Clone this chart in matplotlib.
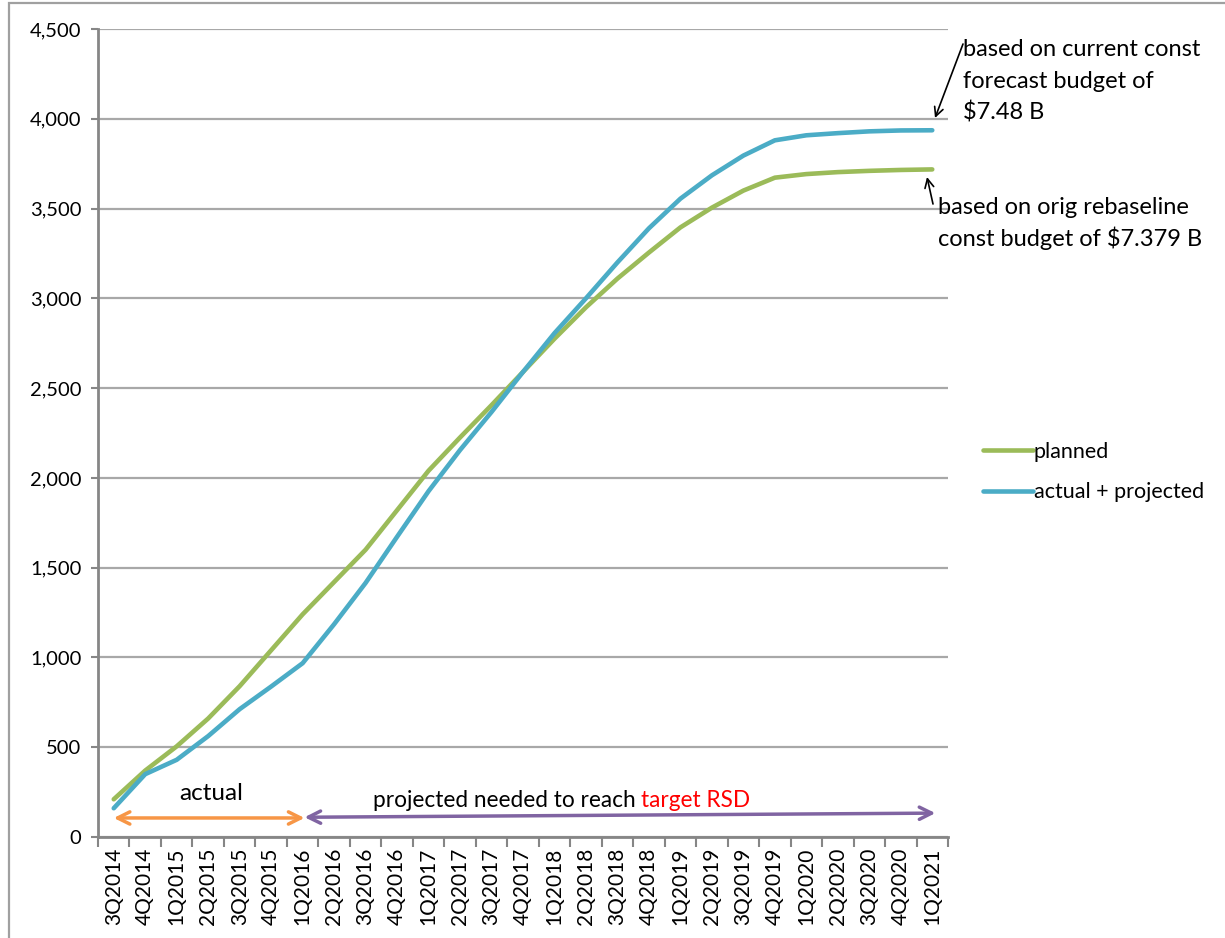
import numpy as np
import matplotlib.pyplot as plt
from matplotlib.ticker import FuncFormatter

quarters = ["3Q2014", "4Q2014", "1Q2015", "2Q2015", "3Q2015", "4Q2015",
            "1Q2016", "2Q2016", "3Q2016", "4Q2016", "1Q2017", "2Q2017",
            "3Q2017", "4Q2017", "1Q2018", "2Q2018", "3Q2018", "4Q2018",
            "1Q2019", "2Q2019", "3Q2019", "4Q2019", "1Q2020", "2Q2020",
            "3Q2020", "4Q2020", "1Q2021"]

planned = [210, 370, 505, 660, 840, 1040, 1240, 1420, 1600, 1820, 2040, 2225,
           2405, 2590, 2775, 2950, 3110, 3255, 3395, 3505, 3600, 3672, 3692,
           3703, 3710, 3715, 3718]
actual_projected = [160, 350, 430, 562, 712, 838, 968, 1185, 1415, 1672, 1926,
                    2155, 2367, 2590, 2806, 3000, 3200, 3390, 3555, 3685, 3795,
                    3880, 3908, 3920, 3930, 3935, 3936]

W, H = 1225, 938

def px(x, y):
    # pixel position measured from the top-left corner -> figure fraction
    return (x / W, 1 - y / H)

plt.rcParams['font.family'] = ['Lato', 'DejaVu Sans']

fig = plt.figure(figsize=(W / 100, H / 100), dpi=100)
ax = fig.add_axes([98 / W, 1 - 837 / H, 850 / W, (837 - 29) / H])

x = np.arange(len(quarters))
ax.plot(x, planned, color='#9BBB59', lw=3.3, solid_capstyle='round', label='planned')
ax.plot(x, actual_projected, color='#4BACC6', lw=3.3, solid_capstyle='round',
        label='actual + projected')

ax.set_xlim(-0.5, len(quarters) - 0.5)
ax.set_ylim(0, 4500)

# gridlines and axes in Excel grey
ax.set_yticks(np.arange(0, 4501, 500))
ax.yaxis.set_major_formatter(FuncFormatter(lambda v, p: "{:,}".format(int(v))))
ax.yaxis.grid(True, color='#A8A8A8', lw=1.6)
ax.set_axisbelow(True)
for s in ['top', 'right']:
    ax.spines[s].set_visible(False)
for s in ['left', 'bottom']:
    ax.spines[s].set_color('#868686')
    ax.spines[s].set_linewidth(2)
ax.tick_params(axis='y', direction='out', length=5, width=1.5, color='#868686',
               labelsize=14.5, pad=7)

# category boundaries get the tick marks, centres get the labels
ax.set_xticks(np.arange(-0.5, len(quarters)), labels=[])
ax.set_xticks(x, labels=quarters, minor=True, rotation=90)
ax.tick_params(axis='x', which='major', direction='out', length=7, width=1.5,
               color='#868686')
ax.tick_params(axis='x', which='minor', length=0, labelsize=15, pad=8)

# period arrows along the bottom
ax.annotate('', xy=(0.0, 106), xytext=(6.06, 106),
            arrowprops=dict(arrowstyle='<->', color='#F79646', lw=2.5,
                            mutation_scale=22, shrinkA=0, shrinkB=0))
ax.annotate('', xy=(26.1, 133), xytext=(6.06, 110),
            arrowprops=dict(arrowstyle='<->', color='#8064A2', lw=2.5,
                            mutation_scale=22, shrinkA=0, shrinkB=0))
ax.text(3.1, 206, 'actual', ha='center', va='baseline', fontsize=17.5)
t1 = ax.text(8.23, 167, 'projected needed to reach', ha='left', va='baseline',
             fontsize=16.3)
ax.annotate('target RSD', xy=(1, 0), xycoords=t1, xytext=(4, 0),
            textcoords='offset points', ha='left', va='bottom', fontsize=16.3,
            color='#FF0000')

leg = ax.legend(loc='center left', bbox_to_anchor=px(983, 472),
                bbox_transform=fig.transFigure, frameon=False, fontsize=15.5,
                handlelength=2.3, handletextpad=0.05, borderpad=0,
                borderaxespad=0, labelspacing=0.95)

# notes on the budget basis of each curve
for i, line in enumerate(["based on current const", "forecast budget of", "$7.48 B"]):
    fig.text(*px(963, 56 + 31.5 * i), line, ha='left', va='baseline', fontsize=17)
for i, line in enumerate(["based on orig rebaseline", "const budget of $7.379 B"]):
    fig.text(*px(938, 214 + 31.5 * i), line, ha='left', va='baseline', fontsize=17)

ax.annotate('', xy=px(935, 118), xycoords='figure fraction',
            xytext=px(963, 44), textcoords='figure fraction',
            arrowprops=dict(arrowstyle='->', color='black', lw=1.2,
                            mutation_scale=16, shrinkA=0, shrinkB=0))
ax.annotate('', xy=px(927, 177), xycoords='figure fraction',
            xytext=px(933, 204), textcoords='figure fraction',
            arrowprops=dict(arrowstyle='->', color='black', lw=1.2,
                            mutation_scale=16, shrinkA=0, shrinkB=0))

# chart-area frame
fig.add_artist(plt.Rectangle(px(9, 990), 1.2, (990 - 3) / H, fill=False,
                             edgecolor='#A0A0A0', lw=1.6,
                             transform=fig.transFigure))

fig.savefig('out.png', dpi=100)
